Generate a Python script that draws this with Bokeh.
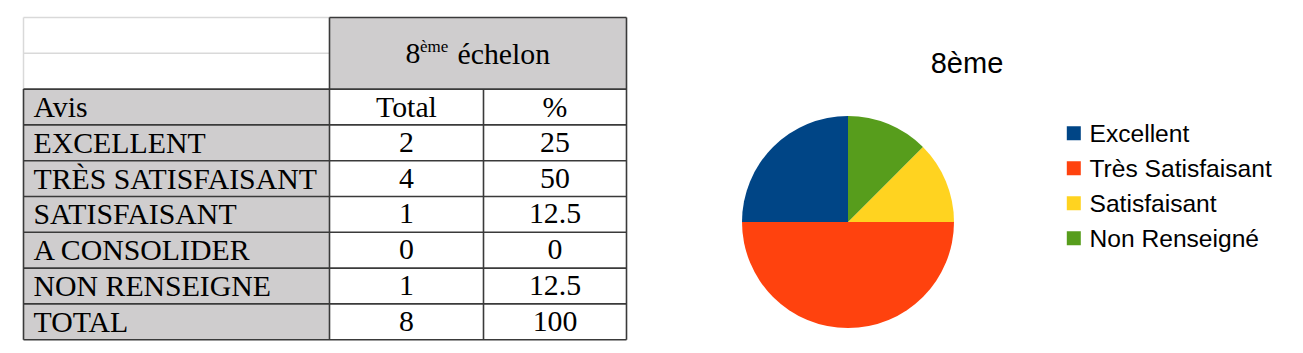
from bokeh.plotting import figure
from bokeh.models import Range1d
from bokeh.embed import file_html
from bokeh.resources import INLINE
from bokeh.core.properties import value
import numpy as np

# ---------------- data ----------------
table_header = "échelon"
table_rank = "8"
table_rank_sup = "ème"
col_titles = ["Avis", "Total", "%"]
avis = ["EXCELLENT", "TRÈS SATISFAISANT", "SATISFAISANT", "A CONSOLIDER", "NON RENSEIGNE", "TOTAL"]
totals = [2, 4, 1, 0, 1, 8]
percents = [25, 50, 12.5, 0, 12.5, 100]

chart_title = "8ème"
pie_labels = ["Excellent", "Très Satisfaisant", "Satisfaisant", "A consolider", "Non Renseigné"]
pie_values = [2, 4, 1, 0, 1]
pie_colors = ["#004586", "#ff420e", "#ffd320", "#7e0021", "#579d1c"]

# ---------------- figure ----------------
W, H = 1303, 353
p = figure(width=W, height=H, x_range=Range1d(0, W), y_range=Range1d(0, H),
           output_backend="svg", toolbar_location=None, min_border=0,
           x_axis_location=None, y_axis_location=None)
p.grid.visible = False
p.outline_line_color = None
p.background_fill_color = "white"
p.border_fill_color = "white"

def Y(s):
    return H - s

SERIF = value("Liberation Serif")
SANS = value("Liberation Sans")
GRAY = "#cfcdce"
DARK = "#3a3a3a"
LIGHT = "#d9d9d9"

# ---------------- table ----------------
x0, x1, x2, x3 = 23, 329, 483, 626
top, rh = 17, 35.8
edges = [top + i * rh for i in range(len(avis) + 4)]

p.quad(left=[x1], right=[x3], top=[Y(edges[0])], bottom=[Y(edges[2])],
       fill_color=GRAY, line_color=None)
p.quad(left=[x0], right=[x1], top=[Y(edges[2])], bottom=[Y(edges[-1])],
       fill_color=GRAY, line_color=None)

# light grid of the empty top-left cells
p.segment(x0=[x0, x0, x0], y0=[Y(edges[0]), Y(edges[1]), Y(edges[0])],
          x1=[x1, x1, x0], y1=[Y(edges[0]), Y(edges[1]), Y(edges[2])],
          line_color=LIGHT, line_width=1.5)

# dark borders
sx0, sy0, sx1, sy1 = [x1], [Y(edges[0])], [x3], [Y(edges[0])]
for e in edges[2:]:
    sx0.append(x0); sy0.append(Y(e)); sx1.append(x3); sy1.append(Y(e))
for xv, start in [(x0, 2), (x1, 0), (x2, 2), (x3, 0)]:
    sx0.append(xv); sy0.append(Y(edges[start])); sx1.append(xv); sy1.append(Y(edges[-1]))
p.segment(x0=sx0, y0=sy0, x1=sx1, y1=sy1, line_color=DARK, line_width=1.6)

FS = "29.8px"
# header merged cell
p.text(x=[405], y=[Y(53.2)], text=[table_rank], text_font=SERIF, text_font_size=FS,
       text_align="left", text_baseline="middle", text_color="black")
p.text(x=[419.5], y=[Y(46.3)], text=[table_rank_sup], text_font=SERIF, text_font_size="17px",
       text_align="left", text_baseline="middle", text_color="black")
p.text(x=[457], y=[Y(53.2)], text=[table_header], text_font=SERIF, text_font_size=FS,
       text_align="left", text_baseline="middle", text_color="black")

c2 = (x1 + x2) / 2
c3 = (x2 + x3) / 2
mids = [Y((edges[i] + edges[i + 1]) / 2 - 0.5) for i in range(2, len(edges) - 1)]
col1 = [col_titles[0]] + avis
col2 = [col_titles[1]] + [str(t) for t in totals]
col3 = [col_titles[2]] + [f"{v:g}" for v in percents]
p.text(x=[33] * len(col1), y=mids, text=col1, text_font=SERIF, text_font_size=FS,
       text_align="left", text_baseline="middle", text_color="black")
p.text(x=[c2] * len(col2), y=mids, text=col2, text_font=SERIF, text_font_size=FS,
       text_align="center", text_baseline="middle", text_color="black")
p.text(x=[c3] * len(col3), y=mids, text=col3, text_font=SERIF, text_font_size=FS,
       text_align="center", text_baseline="middle", text_color="black")

# ---------------- pie ----------------
keep = [i for i, v in enumerate(pie_values) if v > 0]
lbl = [pie_labels[i] for i in keep]
vals = np.array([pie_values[i] for i in keep], dtype=float)
cols = ["#004586", "#ff420e", "#ffd320", "#579d1c"][:len(vals)]
frac = vals / vals.sum()
ends = np.pi / 2 + 2 * np.pi * np.cumsum(frac)
starts = np.concatenate([[np.pi / 2], ends[:-1]])
cx, cy, r = 847.5, Y(221.5), 106
p.wedge(x=[cx] * len(vals), y=[cy] * len(vals), radius=r, start_angle=list(starts),
        end_angle=list(ends), fill_color=cols, line_color=None, direction="anticlock")

p.text(x=[966.5], y=[Y(62.2)], text=[chart_title], text_font=SANS, text_font_size="29px",
       text_align="center", text_baseline="middle", text_color="black")

# legend
ly = [Y(132.7 + 35 * i) for i in range(len(lbl))]
p.rect(x=[1073.3] * len(lbl), y=ly, width=14, height=14, fill_color=cols, line_color=None)
p.text(x=[1089] * len(lbl), y=ly, text=lbl, text_font=SANS, text_font_size="24.6px",
       text_align="left", text_baseline="middle", text_color="black")

open("out.html", "w").write(file_html(p, INLINE))
